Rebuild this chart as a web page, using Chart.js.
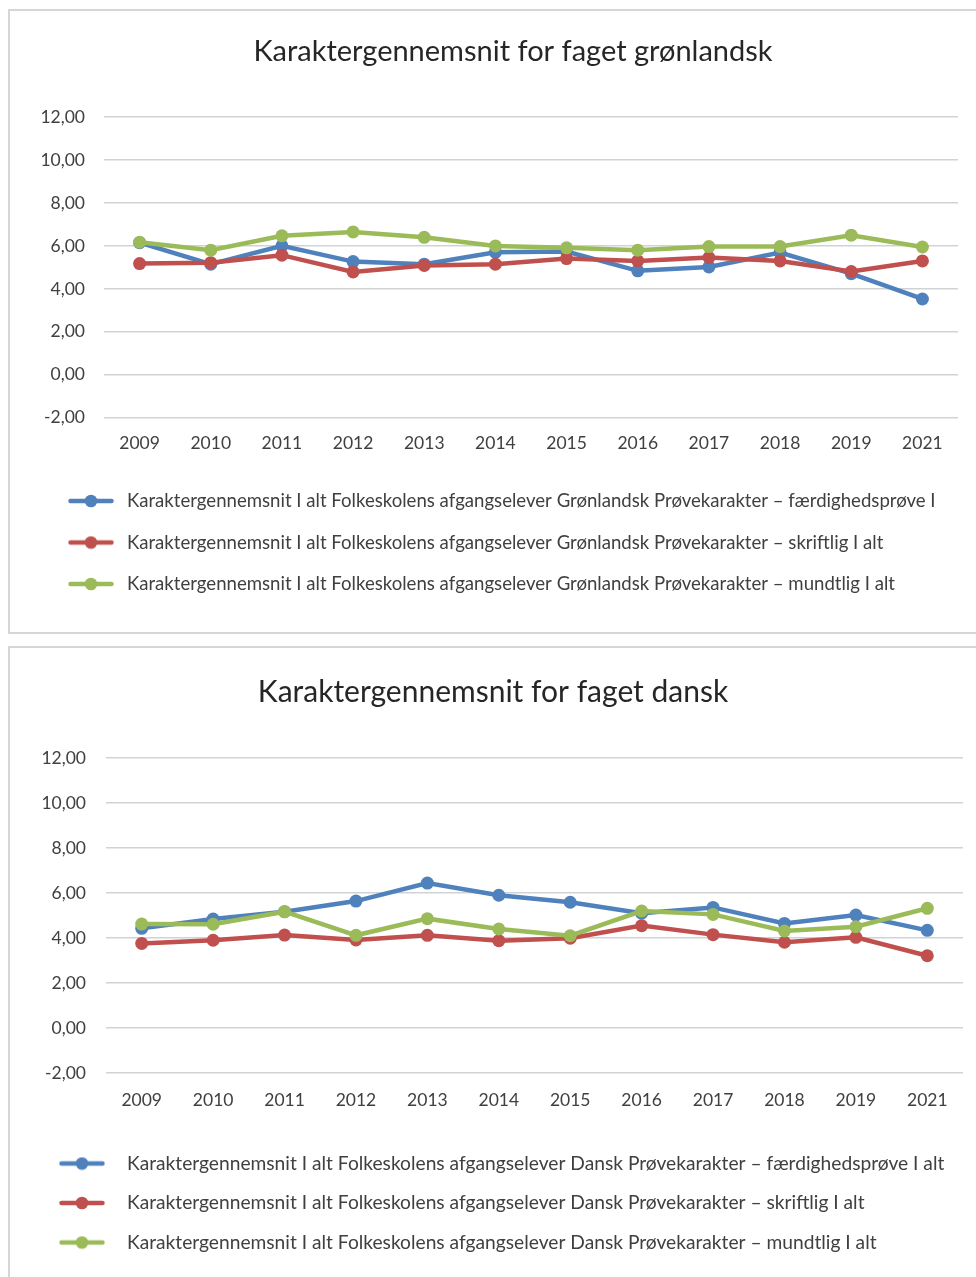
<!DOCTYPE html>
<html>
<head>
<meta charset="utf-8">
<script src="https://cdn.jsdelivr.net/npm/chart.js@4.4.1/dist/chart.umd.min.js"></script>
<style>
    html, body { margin: 0; padding: 0; background: #fff; overflow: hidden; width: 976px; height: 1277px; }
    .box { position: absolute; left: 8px; width: 1200px; border: 2px solid #d6d6d6; box-sizing: border-box; }
    canvas { position: absolute; left: 0; }
</style>
</head>
<body>
<div class="box" style="top:9px; height:625px;"></div>
<div class="box" style="top:646px; height:700px;"></div>
<canvas id="chartGl" width="976" height="623" style="top:10px"></canvas>
<canvas id="chartDa" width="976" height="630" style="top:647px"></canvas>

<script>
const years = ['2009', '2010', '2011', '2012', '2013', '2014', '2015', '2016', '2017', '2018', '2019', '2021'];

// Grønlandsk
const glSkill = [6.15, 5.15, 6.00, 5.27, 5.15, 5.70, 5.74, 4.84, 5.02, 5.69, 4.71, 3.53];
const glWritten = [5.18, 5.22, 5.57, 4.79, 5.09, 5.15, 5.41, 5.30, 5.46, 5.30, 4.81, 5.30];
const glOral = [6.17, 5.80, 6.47, 6.65, 6.40, 6.00, 5.91, 5.80, 5.97, 5.97, 6.50, 5.95];

// Dansk
const daSkill = [4.43, 4.84, 5.17, 5.64, 6.44, 5.90, 5.59, 5.10, 5.36, 4.65, 5.02, 4.34];
const daWritten = [3.76, 3.90, 4.13, 3.91, 4.12, 3.88, 3.99, 4.55, 4.15, 3.81, 4.03, 3.21];
const daOral = [4.62, 4.61, 5.17, 4.12, 4.86, 4.40, 4.10, 5.20, 5.05, 4.31, 4.50, 5.32];

const BLUE = '#4f81bd';
const RED = '#c0504d';
const GREEN = '#9bbb59';
const FONT = 'Lato';

// little line-with-dot picture used as the legend symbol
function legendMarker(color) {
    const c = document.createElement('canvas');
    c.width = 46;
    c.height = 14;
    const g = c.getContext('2d');
    g.strokeStyle = color;
    g.lineWidth = 4.5;
    g.lineCap = 'round';
    g.beginPath();
    g.moveTo(2.5, 7);
    g.lineTo(43.5, 7);
    g.stroke();
    g.fillStyle = color;
    g.beginPath();
    g.arc(23, 7, 6.3, 0, Math.PI * 2);
    g.fill();
    return c;
}

// nudges the title sideways (the boxes are not centred on the plot)
const titleShift = {
    id: 'titleShift',
    afterLayout(chart, args, opts) {
        const t = chart.titleBlock;
        if (t && opts.dx) {
            t.left += opts.dx;
            t.right += opts.dx;
        }
    }
};

function buildChart(id, title, series, geo) {
    const ctx = document.getElementById(id).getContext('2d');
    return new Chart(ctx, {
        type: 'line',
        data: {
            labels: years,
            datasets: series.map((s, i) => ({
                label: s.label,
                data: s.data,
                borderColor: s.color,
                backgroundColor: s.color,
                pointBackgroundColor: s.color,
                pointBorderWidth: 0,
                pointRadius: 6.5,
                borderWidth: 4.5,
                tension: 0,
                order: series.length - i
            }))
        },
        plugins: [titleShift],
        options: {
            responsive: false,
            animation: false,
            layout: { padding: { top: 0, left: geo.padLeft, right: geo.padRight, bottom: geo.padBottom } },
            plugins: {
                titleShift: { dx: geo.titleDx },
                title: {
                    display: true,
                    text: title,
                    color: '#262626',
                    font: { family: FONT, size: geo.titleFont, weight: 'normal' },
                    padding: { top: geo.titleTop, bottom: geo.titleBottom }
                },
                legend: {
                    position: 'bottom',
                    align: 'start',
                    labels: {
                        usePointStyle: true,
                        pointStyleWidth: geo.boxWidth,
                        padding: geo.legendPad,
                        color: '#404040',
                        font: { family: FONT, size: geo.legendFont },
                        generateLabels: chart => chart.data.datasets.map((ds, i) => ({
                            text: ds.label,
                            datasetIndex: i,
                            pointStyle: legendMarker(ds.borderColor),
                            fillStyle: ds.borderColor,
                            strokeStyle: ds.borderColor,
                            fontColor: '#404040',
                            lineWidth: 0,
                            hidden: false
                        }))
                    }
                },
                tooltip: { enabled: false }
            },
            scales: {
                x: {
                    offset: true,
                    grid: { display: false, drawTicks: false },
                    border: { display: false },
                    ticks: { color: '#404040', padding: geo.xTickPad, font: { family: FONT, size: 17.5 } },
                    afterFit: s => { s.height = geo.xHeight; }
                },
                y: {
                    min: -2,
                    max: 12,
                    grid: { color: '#d0d3d6', lineWidth: 1.5, drawTicks: false },
                    border: { display: false },
                    ticks: {
                        stepSize: 2,
                        color: '#404040',
                        padding: geo.yTickPad,
                        font: { family: FONT, size: 17.5 },
                        callback: v => v.toFixed(2).replace('.', ',')
                    },
                    afterFit: s => { s.width = geo.yWidth; }
                }
            }
        }
    });
}

buildChart('chartGl', 'Karaktergennemsnit for faget grønlandsk', [
    { label: 'Karaktergennemsnit I alt Folkeskolens afgangselever Grønlandsk Prøvekarakter – færdighedsprøve I', data: glSkill, color: BLUE },
    { label: 'Karaktergennemsnit I alt Folkeskolens afgangselever Grønlandsk Prøvekarakter – skriftlig I alt', data: glWritten, color: RED },
    { label: 'Karaktergennemsnit I alt Folkeskolens afgangselever Grønlandsk Prøvekarakter – mundtlig I alt', data: glOral, color: GREEN }
], {
    padLeft: 41.4, padRight: 18, padBottom: 29.7,
    titleFont: 29, titleTop: 24.6, titleBottom: 47.6, titleDx: 13.3,
    legendFont: 18.6, boxWidth: 53.4, legendPad: 22.9,
    xTickPad: 15.5, xHeight: 51,
    yTickPad: 19, yWidth: 62.6
});

buildChart('chartDa', 'Karaktergennemsnit for faget dansk', [
    { label: 'Karaktergennemsnit I alt Folkeskolens afgangselever Dansk Prøvekarakter – færdighedsprøve I alt', data: daSkill, color: BLUE },
    { label: 'Karaktergennemsnit I alt Folkeskolens afgangselever Dansk Prøvekarakter – skriftlig I alt', data: daWritten, color: RED },
    { label: 'Karaktergennemsnit I alt Folkeskolens afgangselever Dansk Prøvekarakter – mundtlig I alt', data: daOral, color: GREEN }
], {
    padLeft: 26.3, padRight: 13, padBottom: 14.9,
    titleFont: 30, titleTop: 27, titleBottom: 48, titleDx: -1.6,
    legendFont: 19.2, boxWidth: 70.8, legendPad: 20.3,
    xTickPad: 16.5, xHeight: 60.6,
    yTickPad: 20, yWidth: 79.7
});
</script>
</body>
</html>
